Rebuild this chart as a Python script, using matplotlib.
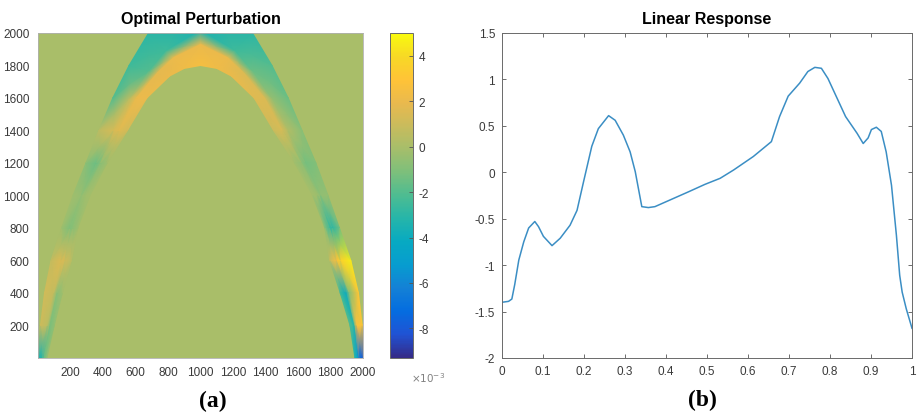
import numpy as np
import matplotlib
matplotlib.use("Agg")
import matplotlib.pyplot as plt
from matplotlib.colors import LinearSegmentedColormap, Normalize
from matplotlib.cm import ScalarMappable

plt.rcParams['font.family'] = ['Liberation Sans', 'DejaVu Sans']
plt.rcParams['axes.unicode_minus'] = False

# ---- panel (a): band stations (outer edge -> inner edge), bottom-left to bottom-right
outer_x = [0, 15, 40, 80, 145, 215, 295, 375, 460, 560, 680, 1000,
           1320, 1440, 1540, 1625, 1710, 1785, 1855, 1925, 1972, 1995, 2000]
outer_y = [0, 200, 400, 600, 800, 1000, 1200, 1400, 1600, 1800, 2000, 2230,
           2000, 1800, 1600, 1400, 1200, 1000, 800, 600, 400, 200, 0]
inner_x = [55, 100, 150, 205, 245, 320, 425, 550, 670, 810, 900, 1000,
           1100, 1190, 1330, 1450, 1580, 1690, 1765, 1795, 1860, 1920, 1950]
inner_y = [0, 200, 400, 600, 800, 1000, 1200, 1400, 1600, 1735, 1782, 1800,
           1782, 1735, 1600, 1400, 1200, 1000, 800, 600, 400, 200, 0]

# perturbation (x 1e-3) across the band: outer, outer-mid, inner-mid, inner
val_outer = [-3.5, 1.0, 1.2, 0.8, -0.3, -0.2, -0.8, 0.6, -2.0, -2.5, -3.0, -4.0,
             -3.0, -2.0, -1.5, -0.8, -1.0, -0.5, -1.5, 4.5, 3.0, 3.0, -8.0]
val_omid = [-3.0, 0.5, 0.8, 1.5, -1.0, -0.5, -1.5, 1.3, 0.5, -2.0, -2.5, -3.5,
            -2.5, -1.5, -0.5, 0.3, -1.3, -0.6, -3.0, 3.5, -1.0, 2.5, -7.0]
val_imid = [-1.5, -1.2, -0.8, 1.2, -0.8, -0.3, -0.8, 1.6, 2.0, 1.8, 2.0, 2.0,
            2.0, 1.5, 1.5, 1.3, -0.6, -0.3, -2.5, 2.5, -4.0, -3.0, -5.0]
val_inner = [-0.5, -0.6, -0.3, 0.5, -0.3, -0.1, -0.3, 1.2, 2.0, 2.0, 2.2, 2.5,
             2.2, 2.0, 1.6, 1.0, -0.2, -0.1, -0.8, 0.8, -2.5, -2.0, -3.0]
band_t = [0.0, 0.5, 0.7, 1.0]

cbar_ticks = [-8, -6, -4, -2, 0, 2, 4]

# ---- panel (b): linear response
lr_x = [0.0, 0.016, 0.024, 0.031, 0.041, 0.053, 0.065, 0.080, 0.089, 0.101,
        0.122, 0.142, 0.166, 0.183, 0.199, 0.219, 0.235, 0.260, 0.276, 0.296,
        0.3125, 0.325, 0.341, 0.357, 0.373, 0.414, 0.455, 0.495, 0.532, 0.565,
        0.613, 0.657, 0.677, 0.698, 0.726, 0.746, 0.763, 0.779, 0.795, 0.838,
        0.866, 0.881, 0.893, 0.901, 0.913, 0.925, 0.937, 0.950, 0.962, 0.970,
        0.976, 0.986, 1.0]
lr_y = [-1.40, -1.39, -1.365, -1.21, -0.945, -0.75, -0.60, -0.53, -0.585, -0.69,
        -0.79, -0.71, -0.57, -0.41, -0.10, 0.28, 0.47, 0.61, 0.56, 0.40,
        0.22, 0.007, -0.37, -0.38, -0.37, -0.29, -0.21, -0.13, -0.065, 0.025,
        0.17, 0.33, 0.60, 0.82, 0.96, 1.085, 1.13, 1.12, 1.01, 0.60,
        0.42, 0.31, 0.37, 0.46, 0.485, 0.44, 0.22, -0.14, -0.68, -1.11,
        -1.29, -1.47, -1.68]

# parula-like colormap
parula = [(0.2081, 0.1663, 0.5292), (0.1253, 0.3242, 0.8303), (0.0165, 0.4266, 0.8786),
          (0.0779, 0.5040, 0.8384), (0.0265, 0.6137, 0.8135), (0.0267, 0.6642, 0.7607),
          (0.1453, 0.7098, 0.6646), (0.3022, 0.7376, 0.5712), (0.4871, 0.7491, 0.4840),
          (0.6473, 0.7456, 0.4188), (0.7858, 0.7356, 0.3633), (0.9139, 0.7258, 0.3063),
          (0.9990, 0.7653, 0.2164), (0.9697, 0.8481, 0.1475), (0.9763, 0.9831, 0.0538)]
cmap = LinearSegmentedColormap.from_list('parula', parula)
norm = Normalize(vmin=-9.3, vmax=5.0)

fig = plt.figure(figsize=(9.17, 4.14), dpi=100)
txt = '#3a3a3a'
edge = '#6a6a6a'

# ---------------- (a)
ax1 = fig.add_axes([38 / 917, 55 / 414, 325 / 917, 325 / 414])
t = np.array(band_t)[None, :]
ox, oy = np.array(outer_x)[:, None], np.array(outer_y)[:, None]
ix, iy = np.array(inner_x)[:, None], np.array(inner_y)[:, None]
X = ox + t * (ix - ox)
Y = oy + t * (iy - oy)
C = np.column_stack([val_outer, val_omid, val_imid, val_inner])
ax1.set_facecolor(cmap(norm(0)))
ax1.pcolormesh(X, Y, C, shading='gouraud', cmap=cmap, norm=norm)
ax1.set_xlim(0, 2000)
ax1.set_ylim(0, 2000)
ax1.set_xticks(range(200, 2001, 200))
ax1.set_yticks(range(200, 2001, 200))
ax1.tick_params(length=0, labelsize=8.5, labelcolor=txt, pad=6)
for s in ax1.spines.values():
    s.set_color('#b0b0b0')
    s.set_linewidth(0.6)
ax1.set_title('Optimal Perturbation', fontsize=11.5, fontweight='bold', pad=7)

cax = fig.add_axes([390 / 917, 55 / 414, 23 / 917, 325 / 414])
cb = fig.colorbar(ScalarMappable(norm=norm, cmap=cmap), cax=cax)
cb.set_ticks(cbar_ticks)
cb.ax.tick_params(direction='in', length=3, width=0.6, color='#555555',
                  labelsize=8.5, labelcolor=txt, pad=4)
cb.outline.set_edgecolor(edge)
cb.outline.set_linewidth(0.7)
fig.text(428 / 917, 1 - 378 / 414, r'$\times10^{-3}$', fontsize=7.5, color='#808080',
         ha='center', va='center')

# ---------------- (b)
ax2 = fig.add_axes([502 / 917, 55 / 414, 410 / 917, 325 / 414])
ax2.plot(lr_x, lr_y, color='#3b8ec4', lw=1.1)
ax2.set_xlim(0, 1)
ax2.set_ylim(-2, 1.5)
ax2.set_xticks(np.round(np.arange(0, 1.01, 0.1), 1))
ax2.set_xticklabels(['0', '0.1', '0.2', '0.3', '0.4', '0.5', '0.6', '0.7', '0.8', '0.9', '1'])
ax2.set_yticks(np.arange(-2, 1.51, 0.5))
ax2.set_yticklabels(['-2', '-1.5', '-1', '-0.5', '0', '0.5', '1', '1.5'])
ax2.tick_params(direction='in', length=3, width=0.6, color='#555555', top=True, right=True,
                labelsize=8.5, labelcolor=txt, pad=5)
for s in ax2.spines.values():
    s.set_color(edge)
    s.set_linewidth(0.7)
ax2.set_title('Linear Response', fontsize=11.5, fontweight='bold', pad=7)

fig.text(213 / 917, 1 - 401 / 414, '(a)', fontsize=17, fontweight='bold',
         family='Liberation Serif', ha='center', va='center')
fig.text(702 / 917, 1 - 400 / 414, '(b)', fontsize=17, fontweight='bold',
         family='Liberation Serif', ha='center', va='center')

fig.savefig('out.png', dpi=100)
